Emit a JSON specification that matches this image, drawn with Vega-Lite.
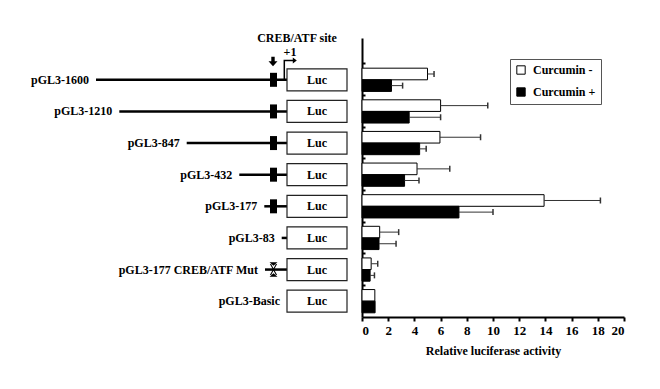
{
  "$schema": "https://vega.github.io/schema/vega-lite/v6.json",
  "background": "white",
  "padding": {"left": 0, "top": 31, "right": 5, "bottom": 5},
  "spacing": 12,
  "bounds": "flush",
  "config": {
    "view": {"stroke": null},
    "font": "Liberation Serif",
    "text": {"font": "Liberation Serif"},
    "axis": {"labelFont": "Liberation Serif", "titleFont": "Liberation Serif"},
    "axisX": {"labelOverlap": false, "labelSeparation": 0},
    "legend": {"labelFont": "Liberation Serif"}
  },
  "resolve": {"scale": {"x": "independent", "y": "independent"}},
  "datasets": {
    "constructs": [
      {"construct": "pGL3-1600", "start": 96, "site": "wt"},
      {"construct": "pGL3-1210", "start": 119.3, "site": "wt"},
      {"construct": "pGL3-847", "start": 186.7, "site": "wt"},
      {"construct": "pGL3-432", "start": 239.3, "site": "wt"},
      {"construct": "pGL3-177", "start": 264.3, "site": "wt"},
      {"construct": "pGL3-83", "start": 281.7, "site": "none"},
      {"construct": "pGL3-177 CREB/ATF Mut", "start": 265, "site": "mut"},
      {"construct": "pGL3-Basic", "start": 287, "site": "none"}
    ],
    "activity": [
      {"construct": "pGL3-1600", "treatment": "Curcumin -", "value": 5.0, "upper": 5.5},
      {"construct": "pGL3-1600", "treatment": "Curcumin +", "value": 2.25, "upper": 3.1},
      {"construct": "pGL3-1210", "treatment": "Curcumin -", "value": 6.0, "upper": 9.6},
      {"construct": "pGL3-1210", "treatment": "Curcumin +", "value": 3.6, "upper": 6.0},
      {"construct": "pGL3-847", "treatment": "Curcumin -", "value": 5.95, "upper": 9.05},
      {"construct": "pGL3-847", "treatment": "Curcumin +", "value": 4.4, "upper": 4.9},
      {"construct": "pGL3-432", "treatment": "Curcumin -", "value": 4.2, "upper": 6.7},
      {"construct": "pGL3-432", "treatment": "Curcumin +", "value": 3.25, "upper": 4.35},
      {"construct": "pGL3-177", "treatment": "Curcumin -", "value": 13.9, "upper": 18.2},
      {"construct": "pGL3-177", "treatment": "Curcumin +", "value": 7.4, "upper": 10.0},
      {"construct": "pGL3-83", "treatment": "Curcumin -", "value": 1.35, "upper": 2.8},
      {"construct": "pGL3-83", "treatment": "Curcumin +", "value": 1.3, "upper": 2.6},
      {"construct": "pGL3-177 CREB/ATF Mut", "treatment": "Curcumin -", "value": 0.7, "upper": 1.2},
      {"construct": "pGL3-177 CREB/ATF Mut", "treatment": "Curcumin +", "value": 0.62, "upper": 0.95},
      {"construct": "pGL3-Basic", "treatment": "Curcumin -", "value": 0.98, "upper": null},
      {"construct": "pGL3-Basic", "treatment": "Curcumin +", "value": 1.0, "upper": null}
    ]
  },
  "hconcat": [
    {
      "width": 350,
      "height": 279,
      "data": {"name": "constructs"},
      "encoding": {
        "y": {
          "field": "construct", "type": "nominal",
          "sort": ["pGL3-1600", "pGL3-1210", "pGL3-847", "pGL3-432", "pGL3-177", "pGL3-83", "pGL3-177 CREB/ATF Mut", "pGL3-Basic"],
          "scale": {"paddingInner": 0, "paddingOuter": 0.411, "align": 1},
          "axis": null
        }
      },
      "layer": [
        {
          "transform": [{"filter": "datum.start < 287"}],
          "mark": {"type": "rule", "strokeWidth": 2.5, "color": "black"},
          "encoding": {
            "x": {"field": "start", "type": "quantitative", "scale": {"domain": [0, 350], "nice": false, "zero": false}, "axis": null},
            "x2": {"datum": 287}
          }
        },
        {
          "mark": {"type": "bar", "fill": "white", "stroke": "#222", "strokeWidth": 1.2, "height": 22},
          "encoding": {"x": {"datum": 287}, "x2": {"datum": 347}}
        },
        {
          "mark": {"type": "text", "text": "Luc", "fontWeight": "bold", "fontSize": 12, "color": "black"},
          "encoding": {"x": {"datum": 317}}
        },
        {
          "mark": {"type": "text", "align": "right", "dx": -7, "fontWeight": "bold", "fontSize": 12, "color": "black"},
          "encoding": {"x": {"field": "start", "type": "quantitative"}, "text": {"field": "construct"}}
        },
        {
          "transform": [{"filter": "datum.site == 'wt'"}],
          "mark": {"type": "tick", "thickness": 7, "size": 14, "color": "black", "opacity": 1},
          "encoding": {"x": {"datum": 273.5}}
        },
        {
          "transform": [{"filter": "datum.site == 'mut'"}],
          "mark": {"type": "point", "shape": "M-0.4,-0.72L0.4,-0.72L0,-0.38ZM-0.4,0.72L0.4,0.72L0,0.38ZM-0.36,-0.55L-0.24,-0.55L0.36,0.55L0.24,0.55ZM0.24,-0.55L0.36,-0.55L-0.24,0.55L-0.36,0.55Z", "size": 400, "filled": true, "color": "black", "opacity": 1},
          "encoding": {"x": {"datum": 273.5}}
        },
        {
          "transform": [{"filter": "datum.construct == 'pGL3-1600'"}],
          "mark": {"type": "point", "shape": "M-0.17,-2.3L0.17,-2.3L0.17,-1.85L0.45,-1.85L0,-1.35L-0.45,-1.85L-0.17,-1.85Z", "size": 400, "filled": true, "color": "black", "opacity": 1},
          "encoding": {"x": {"datum": 273}}
        },
        {
          "transform": [{"filter": "datum.construct == 'pGL3-1600'"}],
          "mark": {"type": "point", "shape": "M-0.075,0L-0.075,-2L0.85,-2L0.85,-2.23L1.25,-1.93L0.85,-1.63L0.85,-1.86L0.075,-1.86L0.075,0Z", "size": 400, "filled": true, "color": "black", "opacity": 1},
          "encoding": {"x": {"datum": 284.3}}
        },
        {
          "transform": [{"filter": "datum.construct == 'pGL3-1600'"}],
          "mark": {"type": "text", "text": "CREB/ATF site", "dy": -42, "fontWeight": "bold", "fontSize": 12, "color": "black"},
          "encoding": {"x": {"datum": 297}}
        },
        {
          "transform": [{"filter": "datum.construct == 'pGL3-1600'"}],
          "mark": {"type": "text", "text": "+1", "dy": -28, "fontWeight": "bold", "fontSize": 12, "color": "black"},
          "encoding": {"x": {"datum": 290}}
        }
      ]
    },
    {
      "width": 262,
      "height": 279,
      "data": {"name": "activity"},
      "encoding": {
        "y": {
          "field": "construct", "type": "nominal",
          "sort": ["pGL3-1600", "pGL3-1210", "pGL3-847", "pGL3-432", "pGL3-177", "pGL3-83", "pGL3-177 CREB/ATF Mut", "pGL3-Basic"],
          "scale": {"paddingInner": 0, "paddingOuter": 0.411, "align": 1},
          "axis": {"labels": false, "title": null, "ticks": true, "tickSize": -3, "bandPosition": 0, "domainColor": "black", "domainWidth": 2, "tickColor": "black", "tickWidth": 2, "grid": false}
        },
        "yOffset": {"field": "treatment", "type": "nominal", "sort": ["Curcumin -", "Curcumin +"], "scale": {"paddingOuter": 0.36, "paddingInner": 0}},
        "x": {
          "field": "value", "type": "quantitative",
          "scale": {"domain": [0, 20], "nice": false},
          "axis": {"values": [0, 2, 4, 6, 8, 10, 12, 14, 16, 18, 20], "labelOverlap": false, "title": "Relative luciferase activity", "titleFontWeight": "bold", "titleFontSize": 12, "titleColor": "black", "labelFontWeight": "bold", "labelFontSize": 13, "labelColor": "black", "tickSize": 4, "tickWidth": 2, "tickColor": "black", "domainColor": "black", "domainWidth": 2, "grid": false, "labelPadding": 3, "titlePadding": 8}
        }
      },
      "layer": [
        {
          "mark": {"type": "bar", "stroke": "black", "strokeWidth": 1},
          "encoding": {
            "fill": {
              "field": "treatment", "type": "nominal", "sort": ["Curcumin -", "Curcumin +"],
              "scale": {"range": ["white", "black"]},
              "legend": {"title": null, "orient": "none", "legendX": 510, "legendY": 21, "strokeColor": "#555", "padding": 5, "labelFontSize": 12, "labelFontWeight": "bold", "labelColor": "black", "symbolType": "square", "symbolSize": 70, "symbolStrokeColor": "black", "symbolStrokeWidth": 1, "rowPadding": 8, "fillColor": "white", "labelOffset": 6}
            }
          }
        },
        {
          "transform": [{"filter": "datum.upper != null"}],
          "mark": {"type": "rule", "color": "#333", "strokeWidth": 1},
          "encoding": {"x2": {"field": "upper"}}
        },
        {
          "transform": [{"filter": "datum.upper != null"}],
          "mark": {"type": "tick", "color": "#333", "thickness": 1.5, "size": 6, "opacity": 1},
          "encoding": {"x": {"field": "upper", "type": "quantitative"}}
        }
      ]
    }
  ]
}
